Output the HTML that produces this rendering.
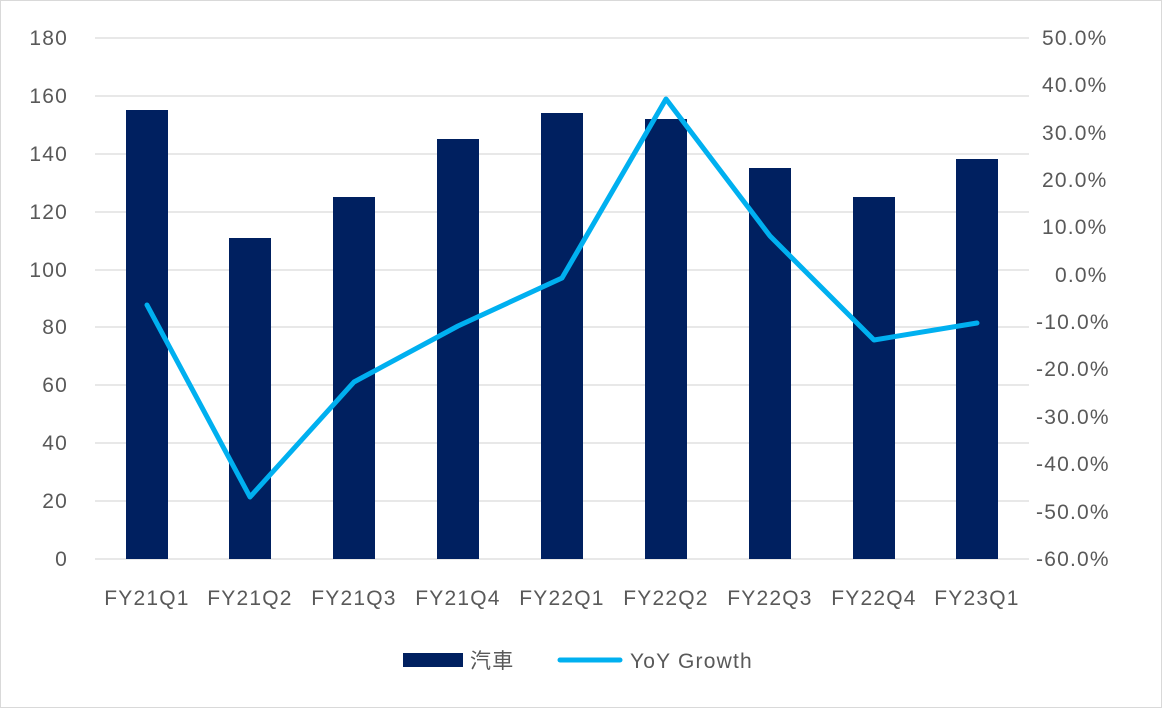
<!DOCTYPE html>
<html><head><meta charset="utf-8"><style>
body{margin:0;background:#fff}
svg text{font-family:"Liberation Sans","Noto Sans CJK TC",sans-serif;fill:#595959;font-size:21px;letter-spacing:1.2px}
</style></head><body>
<svg width="1163" height="709" xmlns="http://www.w3.org/2000/svg">
<rect x="0.5" y="0.5" width="1161" height="707" fill="#fff" stroke="#d9d9d9"/>
<g stroke="#d9d9d9" stroke-width="1.3">
<line x1="95" x2="1029" y1="38" y2="38"/><line x1="95" x2="1029" y1="96" y2="96"/>
<line x1="95" x2="1029" y1="154" y2="154"/><line x1="95" x2="1029" y1="212" y2="212"/>
<line x1="95" x2="1029" y1="270" y2="270"/><line x1="95" x2="1029" y1="327" y2="327"/>
<line x1="95" x2="1029" y1="385" y2="385"/><line x1="95" x2="1029" y1="443" y2="443"/>
<line x1="95" x2="1029" y1="501" y2="501"/><line x1="95" x2="1029" y1="559" y2="559"/>
</g>
<g fill="#002060">
<rect x="126" y="110" width="42" height="449"/>
<rect x="229" y="238" width="42" height="321"/>
<rect x="333" y="197" width="42" height="362"/>
<rect x="437" y="139" width="42" height="420"/>
<rect x="541" y="113" width="42" height="446"/>
<rect x="645" y="119" width="42" height="440"/>
<rect x="749" y="168" width="42" height="391"/>
<rect x="853" y="197" width="42" height="362"/>
<rect x="956" y="159" width="42" height="400"/>
</g>
<polyline fill="none" stroke="#00b0f0" stroke-width="5" stroke-linejoin="round" stroke-linecap="round" points="147,305 250,497 354,382 458,326 562,278 666,99 770,236 874,340 977,323"/>
<g text-anchor="end">
<text x="68" y="45">180</text><text x="68" y="103">160</text><text x="68" y="161">140</text>
<text x="68" y="219">120</text><text x="68" y="277">100</text><text x="68" y="334">80</text>
<text x="68" y="392">60</text><text x="68" y="450">40</text><text x="68" y="508">20</text><text x="68" y="566">0</text>
</g>
<g>
<text x="1042" y="45">50.0%</text><text x="1042" y="92">40.0%</text><text x="1042" y="140">30.0%</text>
<text x="1042" y="187">20.0%</text><text x="1042" y="234">10.0%</text><text x="1055" y="282">0.0%</text>
<text x="1036" y="329">-10.0%</text><text x="1036" y="376">-20.0%</text><text x="1036" y="424">-30.0%</text>
<text x="1036" y="471">-40.0%</text><text x="1036" y="519">-50.0%</text><text x="1036" y="566">-60.0%</text>
</g>
<g text-anchor="middle">
<text x="147" y="605">FY21Q1</text><text x="250" y="605">FY21Q2</text><text x="354" y="605">FY21Q3</text>
<text x="458" y="605">FY21Q4</text><text x="562" y="605">FY22Q1</text><text x="666" y="605">FY22Q2</text>
<text x="770" y="605">FY22Q3</text><text x="874" y="605">FY22Q4</text><text x="977" y="605">FY23Q1</text>
</g>
<rect x="403" y="653" width="60" height="14" fill="#002060"/>
<text x="470" y="668">汽車</text>
<line x1="560" x2="620" y1="660" y2="660" stroke="#00b0f0" stroke-width="5" stroke-linecap="round"/>
<text x="630" y="668">YoY Growth</text>
</svg>
</body></html>
